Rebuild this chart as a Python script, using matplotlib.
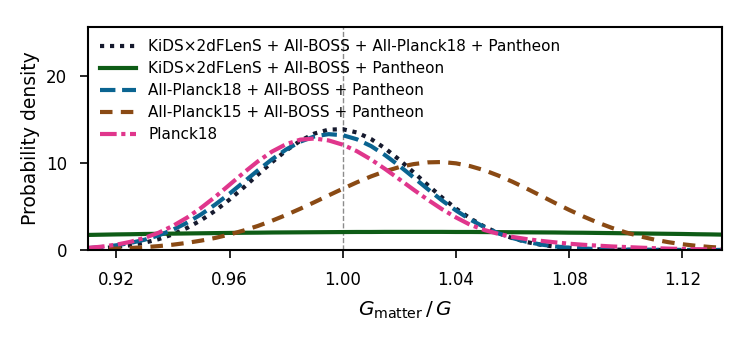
"""
Posterior of G_matter/G for the different data combinations
"""

import numpy as np
import matplotlib
matplotlib.use("Agg")
import matplotlib.pyplot as plt

# grid in G_matter/G
g_ratio = np.round(np.arange(0.910, 1.1351, 0.005), 3)

# KiDSx2dFLenS + All-BOSS + All-Planck18 + Pantheon
p_kids_boss_p18_pan = [0.13, 0.21, 0.35, 0.55, 0.84, 1.25, 1.80, 2.53, 3.43, 4.52,
                       5.79, 7.18, 8.64, 10.08, 11.42, 12.54, 13.37, 13.82, 13.87, 13.49,
                       12.74, 11.66, 10.36, 8.93, 7.47, 6.05, 4.76, 3.64, 2.69, 1.93,
                       1.35, 0.91, 0.60, 0.38, 0.23, 0.14, 0.08, 0.05, 0.03, 0.02,
                       0.01, 0.01, 0.00, 0.00, 0.00, 0.00]
# KiDSx2dFLenS + All-BOSS + Pantheon
p_kids_boss_pan = [1.73, 1.76, 1.79, 1.81, 1.84, 1.86, 1.88, 1.90, 1.92, 1.94,
                   1.96, 1.98, 1.99, 2.01, 2.02, 2.03, 2.04, 2.05, 2.06, 2.07,
                   2.07, 2.08, 2.08, 2.08, 2.08, 2.08, 2.07, 2.07, 2.06, 2.05,
                   2.04, 2.03, 2.02, 2.01, 1.99, 1.98, 1.96, 1.94, 1.92, 1.90,
                   1.88, 1.86, 1.84, 1.81, 1.79, 1.76]
# All-Planck18 + All-BOSS + Pantheon
p_p18_boss_pan = [0.22, 0.35, 0.54, 0.81, 1.18, 1.68, 2.33, 3.13, 4.10, 5.23,
                  6.47, 7.80, 9.14, 10.41, 11.54, 12.44, 13.04, 13.30, 13.18, 12.71,
                  11.93, 10.88, 9.66, 8.34, 7.00, 5.71, 4.54, 3.50, 2.63, 1.92,
                  1.37, 0.94, 0.63, 0.41, 0.26, 0.16, 0.10, 0.06, 0.03, 0.02,
                  0.01, 0.01, 0.00, 0.00, 0.00, 0.00]
# All-Planck15 + All-BOSS + Pantheon
p_p15_boss_pan = [0.08, 0.11, 0.16, 0.23, 0.32, 0.45, 0.61, 0.82, 1.08, 1.39,
                  1.78, 2.24, 2.76, 3.36, 4.02, 4.74, 5.49, 6.27, 7.03, 7.77,
                  8.45, 9.04, 9.52, 9.86, 10.06, 10.10, 9.95, 9.63, 9.16, 8.54,
                  7.83, 7.05, 6.23, 5.40, 4.60, 3.85, 3.16, 2.55, 2.02, 1.57,
                  1.20, 0.90, 0.66, 0.48, 0.34, 0.24]
# Planck18
p_p18 = [0.24, 0.39, 0.61, 0.94, 1.39, 1.99, 2.77, 3.72, 4.85, 6.12,
         7.49, 8.87, 10.17, 11.30, 12.15, 12.67, 12.80, 12.58, 12.09, 11.34,
         10.39, 9.29, 8.12, 6.93, 5.78, 4.70, 3.74, 2.90, 2.30, 1.85,
         1.50, 1.25, 1.05, 0.88, 0.72, 0.60, 0.50, 0.41, 0.34, 0.27,
         0.21, 0.16, 0.12, 0.09, 0.07, 0.05]

labels = ["KiDS\u00d72dFLenS + All-BOSS + All-Planck18 + Pantheon",
          "KiDS\u00d72dFLenS + All-BOSS + Pantheon",
          "All-Planck18 + All-BOSS + Pantheon",
          "All-Planck15 + All-BOSS + Pantheon",
          "Planck18"]
xticks = [0.92, 0.96, 1.00, 1.04, 1.08, 1.12]
yticks = [0, 10, 20]

plt.rcParams['font.family'] = ['DejaVu Sans']
plt.rcParams['font.size'] = 11

fig = plt.figure(figsize=(7.49, 3.42), dpi=100)
ax = fig.add_axes([0.1175, 0.269, 0.8465, 0.652])

ax.axvline(1.0, color="0.55", ls="--", lw=1.0, zorder=0)

lw = 3.0
ax.plot(g_ratio, p_kids_boss_p18_pan, ls=(0, (1, 1.4)), color="#161a2e", lw=lw, label=labels[0])
ax.plot(g_ratio, p_kids_boss_pan, ls="-", color="#0e5c16", lw=lw, label=labels[1])
ax.plot(g_ratio, p_p18_boss_pan, ls=(0, (3.7, 1.6)), color="#0a6491", lw=lw, label=labels[2])
ax.plot(g_ratio, p_p15_boss_pan, ls=(0, (3.0, 2.0)), color="#8a4a14", lw=lw, label=labels[3])
ax.plot(g_ratio, p_p18, ls=(0, (4.0, 1.1, 1.0, 1.1)), color="#e0368c", lw=lw, label=labels[4])

ax.set_xlim(0.91, 1.134)
ax.set_ylim(0, 25.6)
ax.set_xticks(xticks)
ax.set_xticklabels(["%.2f" % t for t in xticks])
ax.set_yticks(yticks)
ax.tick_params(direction="out", length=6, width=1.2, pad=9, labelsize=12)
for s in ax.spines.values():
    s.set_linewidth(1.5)

ax.set_xlabel(r"$G_{\rm matter}\,/\,G$", fontsize=14.5, labelpad=8)
ax.set_ylabel("Probability density", fontsize=13.5, labelpad=4)

ax.legend(loc="upper left", frameon=False, handlelength=2.35, labelspacing=0.46,
          borderaxespad=0.4, fontsize=11)

fig.savefig("out.png", dpi=100)
